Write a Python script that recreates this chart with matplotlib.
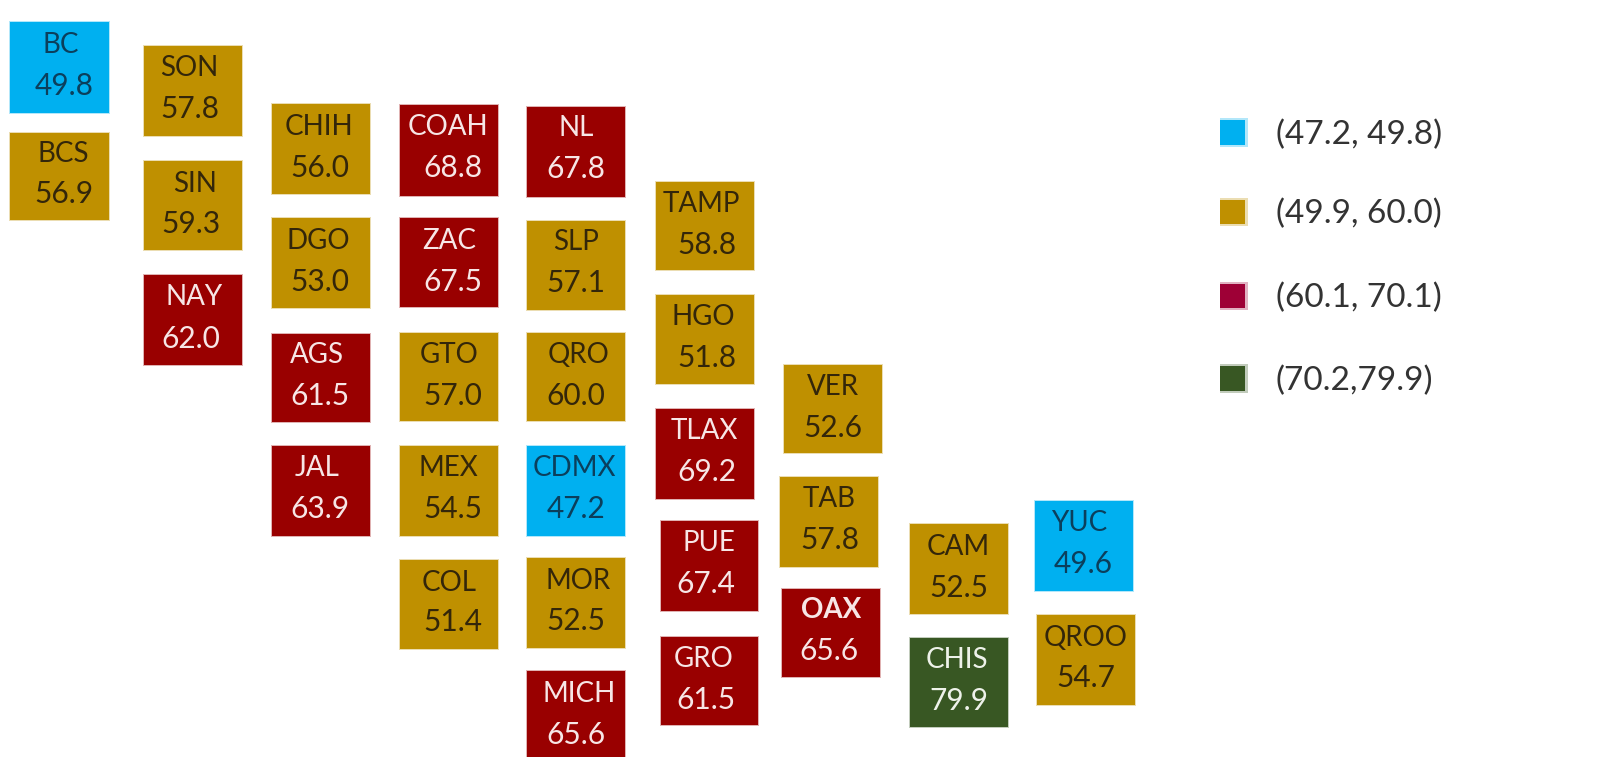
import matplotlib
matplotlib.use('Agg')
import matplotlib.pyplot as plt
from matplotlib.patches import Rectangle

plt.rcParams['font.family'] = ['Lato', 'DejaVu Sans']

# data
states = ['BC', 'BCS', 'SON', 'SIN', 'NAY', 'CHIH', 'DGO', 'AGS', 'JAL', 'COAH', 'ZAC',
          'GTO', 'MEX', 'COL', 'NL', 'SLP', 'QRO', 'CDMX', 'MOR', 'MICH', 'TAMP', 'HGO',
          'TLAX', 'PUE', 'GRO', 'VER', 'TAB', 'OAX', 'CAM', 'CHIS', 'YUC', 'QROO']
values = [49.8, 56.9, 57.8, 59.3, 62.0, 56.0, 53.0, 61.5, 63.9, 68.8, 67.5,
          57.0, 54.5, 51.4, 67.8, 57.1, 60.0, 47.2, 52.5, 65.6, 58.8, 51.8,
          69.2, 67.4, 61.5, 52.6, 57.8, 65.6, 52.5, 79.9, 49.6, 54.7]
bin_tops = [49.8, 60.0, 70.1, 79.9]
legend_labels = ['(47.2, 49.8)', '(49.9, 60.0)', '(60.1, 70.1)', '(70.2,79.9)']

# tile layout, left/top/right/bottom in px of the 1568 wide view
tile_boxes = [(10, 22, 107, 111), (10, 130, 107, 216), (141, 45, 237, 133), (141, 158, 237, 245),
              (141, 270, 237, 358), (267, 102, 363, 190), (267, 214, 363, 302), (267, 327, 363, 414),
              (267, 437, 363, 525), (392, 103, 488, 192), (392, 214, 488, 301), (392, 326, 488, 413),
              (392, 437, 488, 525), (392, 549, 488, 636), (517, 105, 613, 193), (517, 217, 613, 304),
              (517, 326, 613, 413), (517, 437, 613, 525), (517, 547, 613, 635), (517, 658, 613, 742),
              (643, 178, 739, 265), (643, 289, 739, 376), (643, 401, 739, 489), (648, 511, 743, 599),
              (648, 624, 743, 711), (769, 358, 865, 444), (765, 468, 861, 556), (767, 577, 863, 664),
              (892, 514, 988, 602), (892, 625, 988, 713), (1015, 491, 1111, 579), (1017, 603, 1113, 691)]
# text centres: name x, name y, value x, value y
text_spots = [(60, 42, 63, 82), (62, 149, 63, 188), (186, 65, 186, 105), (191, 178, 187, 218),
              (190, 289, 187, 330), (313, 122, 314, 163), (312, 234, 314, 274), (311, 346, 314, 386),
              (311, 457, 314, 497), (439, 122, 444, 163), (441, 234, 444, 274), (440, 346, 444, 386),
              (440, 457, 444, 497), (440, 569, 444, 608), (565, 123, 565, 164), (565, 235, 565, 275),
              (567, 346, 565, 386), (563, 457, 565, 497), (567, 567, 565, 607), (568, 678, 565, 718),
              (688, 198, 693, 238), (690, 309, 693, 349), (691, 420, 693, 461), (695, 530, 692, 570),
              (690, 644, 692, 684), (817, 377, 817, 418), (813, 487, 814, 527), (815, 596, 813, 636),
              (940, 534, 940, 574), (938, 645, 940, 685), (1058, 511, 1062, 551), (1065, 623, 1065, 663)]

tile_colors = ['#00B0F0', '#BF9000', '#990000', '#385723']
legend_colors = ['#00B0F0', '#BF9000', '#9E0036', '#385723']
text_colors = ['#0B3F5C', '#33260A', '#F7E6E6', '#EEF2EA']

fig = plt.figure(figsize=(15.99, 7.57), dpi=100)
ax = fig.add_axes([0, 0, 1, 1])
ax.set_xlim(0, 1568)
ax.set_ylim(742, 0)
ax.axis('off')

for state, val, box, spot in zip(states, values, tile_boxes, text_spots):
    idx = next(i for i, top in enumerate(bin_tops) if val <= top)
    x0, y0, x1, y1 = box
    # pale halo then the solid tile
    ax.add_patch(Rectangle((x0 - 1, y0 - 1), x1 - x0 + 2, y1 - y0 + 2, fc=tile_colors[idx], alpha=0.3, lw=0))
    ax.add_patch(Rectangle((x0, y0), x1 - x0, y1 - y0, fc=tile_colors[idx], lw=0))
    weight = 'bold' if state == 'OAX' else 'normal'
    ax.text(spot[0], spot[1] + 2, state, color=text_colors[idx], fontsize=20, ha='center', va='center', weight=weight)
    ax.text(spot[2], spot[3] + 2, f'{val:.1f}', color=text_colors[idx], fontsize=21.5, ha='center', va='center')

# legend
legend_y = [130, 208, 290, 371]
for lab, col, y in zip(legend_labels, legend_colors, legend_y):
    ax.add_patch(Rectangle((1196, y - 14), 28, 28, fc=col, alpha=0.3, lw=0))
    ax.add_patch(Rectangle((1196, y - 12), 25, 24, fc=col, lw=0))
    ax.text(1251, y + 2, lab, color='#333333', fontsize=24, ha='left', va='center')

fig.savefig('out.png', dpi=100)
